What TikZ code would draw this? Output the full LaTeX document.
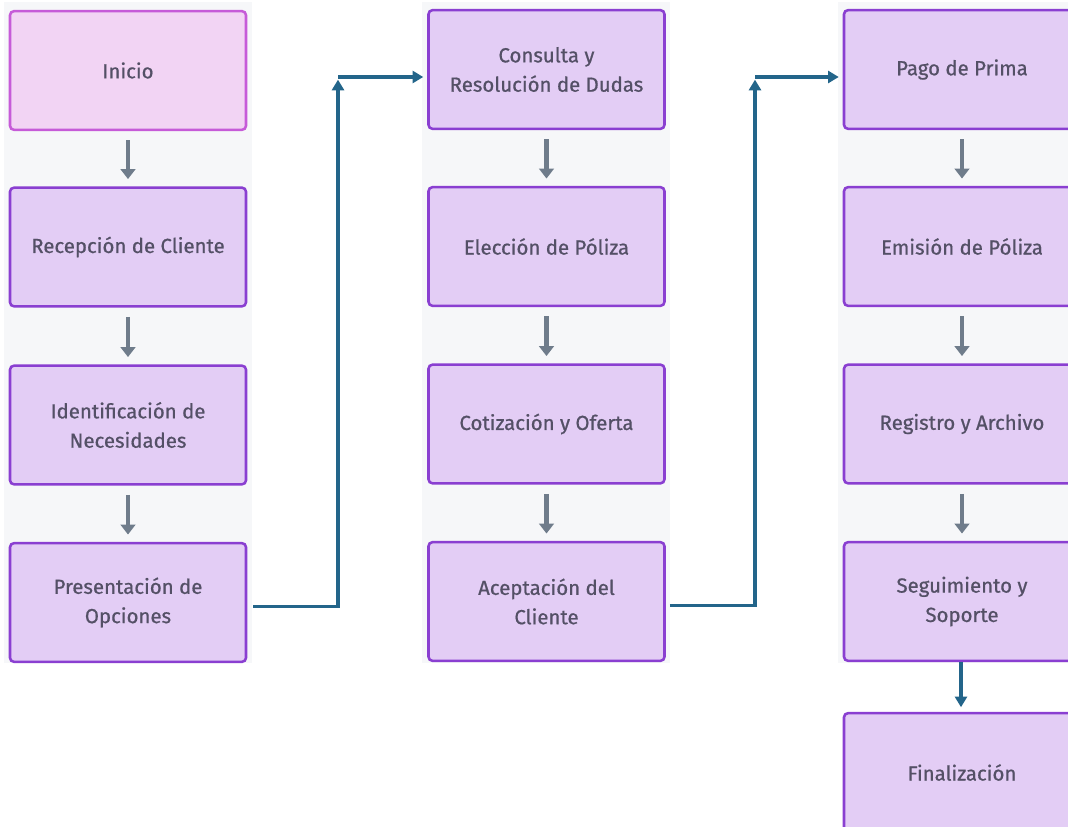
\documentclass[tikz,border=0pt]{standalone}
\usepackage{fontspec}
\setmainfont{Fira Sans}[FakeBold=0.7]
\usetikzlibrary{arrows.meta}
\definecolor{bgstrip}{HTML}{F6F7F9}
\definecolor{boxfill}{HTML}{E3CDF5}
\definecolor{boxdraw}{HTML}{8A3FD1}
\definecolor{startfill}{HTML}{F2D4F4}
\definecolor{startdraw}{HTML}{C65BD8}
\definecolor{txt}{HTML}{545066}
\definecolor{grayarr}{HTML}{6F7C8B}
\definecolor{tealarr}{HTML}{23658A}
\begin{document}
\begin{tikzpicture}[x=0.75pt,y=-0.75pt,
  stepbox/.style={draw=boxdraw, fill=boxfill, line width=1.9pt, rounded corners=3pt,
    minimum width=177pt, minimum height=89pt, align=center, text=txt,
    font=\fontsize{15.3}{22}\selectfont, inner sep=0pt},
  startbox/.style={stepbox, draw=startdraw, fill=startfill},
  grayflow/.style={draw=grayarr, line width=3.2pt, -{Triangle[length=7.5pt,width=11pt]},
    shorten <=7pt, shorten >=5.5pt},
  tealflow/.style={draw=tealarr, line width=2.3pt, -{Triangle[length=8pt,width=9pt]}}
]
\useasboundingbox (0,0) rectangle (1068,827);
\clip (0,0) rectangle (1068,827);
\fill[white] (0,0) rectangle (1068,827);
\fill[bgstrip] (4,2) rectangle (252,663);
\fill[bgstrip] (422,2) rectangle (670,663);
\fill[bgstrip] (838,2) rectangle (1068,663);

% column 1
\node[startbox] (inicio) at (128,70.5) {Inicio};
\node[stepbox] (recep) at (128,247) {Recepción de Cliente};
\node[stepbox] (ident) at (128,425) {Identificación de\\Necesidades};
\node[stepbox] (pres) at (128,602.5) {Presentación de\\Opciones};
% column 2
\node[stepbox] (cons) at (546.5,69.5) {Consulta y\\Resolución de Dudas};
\node[stepbox] (elec) at (546.5,246.5) {Elección de Póliza};
\node[stepbox] (coti) at (546.5,424) {Cotización y Oferta};
\node[stepbox] (acep) at (546.5,601.5) {Aceptación del\\Cliente};
% column 3
\node[stepbox] (pago) at (962,69.5) {Pago de Prima};
\node[stepbox] (emis) at (962,246.5) {Emisión de Póliza};
\node[stepbox] (regi) at (962,424) {Registro y Archivo};
\node[stepbox] (segu) at (962,601.5) {Seguimiento y\\Soporte};
\node[stepbox] (fina) at (962,772.5) {Finalización};

% gray arrows
\draw[grayflow] (inicio) -- (recep);
\draw[grayflow] (recep) -- (ident);
\draw[grayflow] (ident) -- (pres);
\draw[grayflow] (cons) -- (elec);
\draw[grayflow] (elec) -- (coti);
\draw[grayflow] (coti) -- (acep);
\draw[grayflow] (pago) -- (emis);
\draw[grayflow] (emis) -- (regi);
\draw[grayflow] (regi) -- (segu);

% teal connectors
\coordinate (c1) at (338,77);
\coordinate (c2) at (755,77);
\draw[tealflow] ([xshift=4.5pt,yshift=-3pt]pres.east) -| ([yshift=-2pt]c1);
\draw[tealflow] (c1) -- ([xshift=-3pt]c1 -| cons.west);
\draw[tealflow] ([xshift=3pt,yshift=-3pt]acep.east) -| ([yshift=-2pt]c2);
\draw[tealflow] (c2) -- ([xshift=-3pt]c2 -| pago.west);
\draw[tealflow, shorten >=3.5pt] (segu.south -| 961,0) -- (fina.north -| 961,0);
\end{tikzpicture}
\end{document}
